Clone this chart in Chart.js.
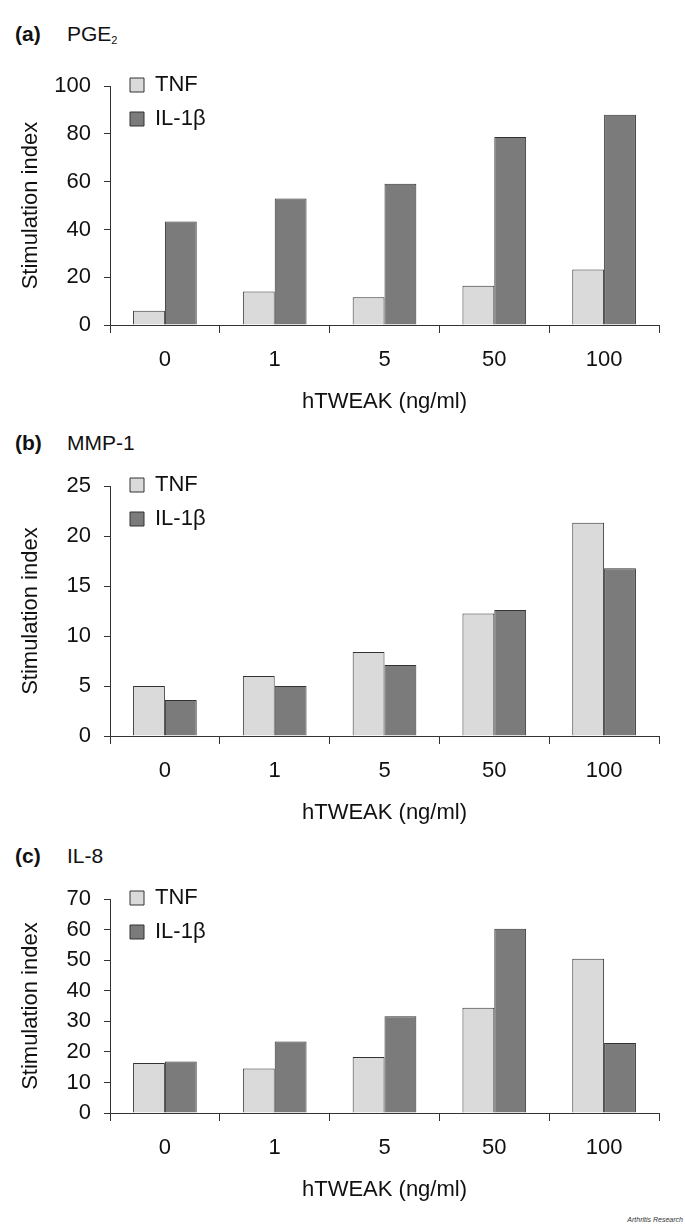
<!DOCTYPE html>
<html>
<head>
<meta charset="utf-8">
<script src="https://cdn.jsdelivr.net/npm/chart.js@4.4.1/dist/chart.umd.min.js"></script>
<style>
  body { margin: 0; background: #fff; }
  #page { position: relative; width: 685px; height: 1228px; font-family: "Liberation Sans", Arial, sans-serif; color: #111; }
  #page canvas { position: absolute; left: 0; }
  .head { position: absolute; left: 15px; font-size: 21px; line-height: 21px; }
  .head b { display: inline-block; width: 52px; }
  .head sub { font-size: 11px; vertical-align: -3px; }
  .credit { position: absolute; right: 2px; top: 1216px; font-size: 7px; font-style: italic; color: #333; }
</style>
</head>
<body>
<div id="page">
  <div class="head" style="top:23px"><b>(a)</b>PGE<sub>2</sub></div>
  <div class="head" style="top:432px"><b>(b)</b>MMP-1</div>
  <div class="head" style="top:845px"><b>(c)</b>IL-8</div>
  <canvas id="chartA"></canvas>
  <canvas id="chartB"></canvas>
  <canvas id="chartC"></canvas>
  <div class="credit">Arthritis Research</div>
</div>
<script>
// hTWEAK doses (ng/ml)
const doses = ['0', '1', '5', '50', '100'];

// (a) PGE2
const pgeTnf = [6, 14, 11.6, 16.4, 23.2];
const pgeIl1b = [43.3, 53, 59.2, 78.7, 88];

// (b) MMP-1
const mmpTnf = [5.0, 6.0, 8.4, 12.25, 21.35];
const mmpIl1b = [3.6, 5.0, 7.1, 12.6, 16.8];

// (c) IL-8
const il8Tnf = [16.4, 14.6, 18.3, 34.5, 50.5];
const il8Il1b = [16.9, 23.4, 31.7, 60.3, 22.9];

const yMaxes = [100, 25, 70];
const ySteps = [20, 5, 10];

const FONT = '"Liberation Sans", Arial, sans-serif';
const INK = '#333';
const TEXT = '#111';

// legend sits a bit further into the plot than chart.js puts it
const nudgeLegend = {
    id: 'nudgeLegend',
    afterLayout(chart) {
        chart.legend.left += 8;
        chart.legend.top += 2;
    }
};

function makeChart(id, tnf, il1b, yMax, yStep, plotTop, plotBottom) {
    const canvas = document.getElementById(id);
    const top = plotTop - 20;
    const h = plotBottom + 100 - top;
    canvas.width = 685;
    canvas.height = h;
    canvas.style.top = top + 'px';
    canvas.style.width = '685px';
    canvas.style.height = h + 'px';

    return new Chart(canvas.getContext('2d'), {
        type: 'bar',
        data: {
            labels: doses,
            datasets: [{
                label: 'TNF',
                data: tnf,
                backgroundColor: '#dadada',
                borderColor: INK,
                borderWidth: 1
            }, {
                label: 'IL-1β',
                data: il1b,
                backgroundColor: '#7b7b7b',
                borderColor: INK,
                borderWidth: 1
            }]
        },
        plugins: [nudgeLegend],
        options: {
            responsive: false,
            animation: false,
            devicePixelRatio: 1,
            categoryPercentage: 0.58,
            barPercentage: 1,
            layout: { padding: { top: 20, right: 26, left: 0, bottom: 0 } },
            plugins: {
                tooltip: { enabled: false },
                legend: {
                    position: 'chartArea',
                    align: 'start',
                    labels: {
                        boxWidth: 14,
                        boxHeight: 14,
                        padding: 12,
                        color: TEXT,
                        font: { family: FONT, size: 22 }
                    }
                }
            },
            scales: {
                x: {
                    grid: { drawOnChartArea: false, tickLength: 8, color: INK },
                    border: { color: INK },
                    ticks: { color: TEXT, padding: 14, font: { family: FONT, size: 22 } },
                    title: {
                        display: true,
                        text: 'hTWEAK (ng/ml)',
                        color: TEXT,
                        padding: { top: 0, bottom: 10 },
                        font: { family: FONT, size: 22 }
                    },
                    afterFit: (scale) => { scale.height = 100; }
                },
                y: {
                    min: 0,
                    max: yMax,
                    grid: { drawOnChartArea: false, tickLength: 6, color: INK },
                    border: { color: INK },
                    ticks: { stepSize: yStep, color: TEXT, padding: 13, font: { family: FONT, size: 22 } },
                    title: {
                        display: true,
                        text: 'Stimulation index',
                        color: TEXT,
                        padding: { top: 18, bottom: 0 },
                        font: { family: FONT, size: 22 }
                    },
                    afterFit: (scale) => { scale.width = 110; }
                }
            }
        }
    });
}

makeChart('chartA', pgeTnf, pgeIl1b, yMaxes[0], ySteps[0], 80, 325);
makeChart('chartB', mmpTnf, mmpIl1b, yMaxes[1], ySteps[1], 480, 736);
makeChart('chartC', il8Tnf, il8Il1b, yMaxes[2], ySteps[2], 893, 1113);
</script>
</body>
</html>
